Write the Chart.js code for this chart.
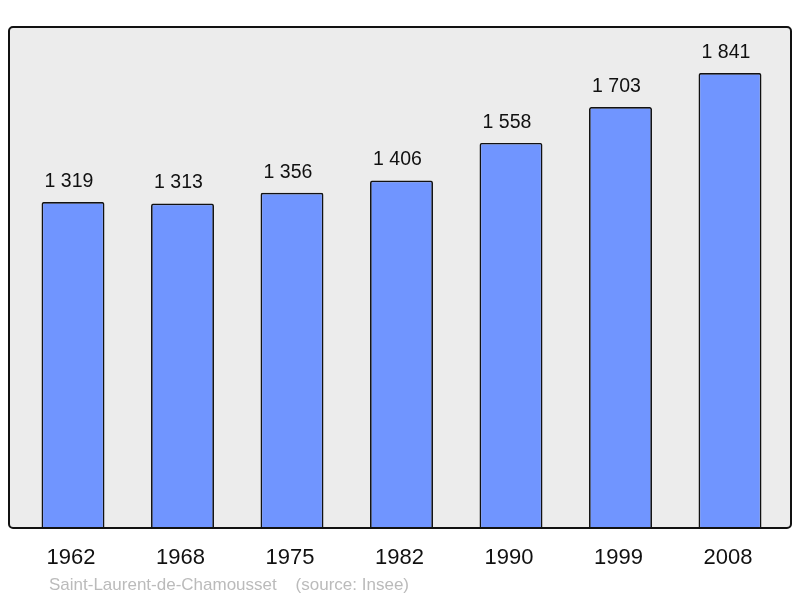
<!DOCTYPE html>
<html><head><meta charset="utf-8">
<script src="https://cdn.jsdelivr.net/npm/chart.js@4"></script>
<style>html,body{margin:0;padding:0;background:#fff}#wrap{width:800px;height:598px}</style>
</head><body><div id="wrap"><canvas id="c" width="800" height="598"></canvas></div>
<script>
const years = ['1962','1968','1975','1982','1990','1999','2008'];
const population = [1319,1313,1356,1406,1558,1703,1841];
const sourceText = 'Saint-Laurent-de-Chamousset    (source: Insee)';
const yMax = 2027;

const fmt = v => String(v).replace(/\B(?=(\d{3})+(?!\d))/g, ' ');
const FONT = '"Liberation Sans", Arial, sans-serif';

const framePlugin = {
  id: 'frame',
  beforeDraw(chart) {
    const ctx = chart.ctx;
    ctx.save();
    ctx.fillStyle = '#fff';
    ctx.fillRect(0,0,chart.width,chart.height);
    ctx.beginPath();
    ctx.roundRect(9,27,782,501,4);
    ctx.fillStyle = '#ececec';
    ctx.fill();
    ctx.restore();
  },
  afterDatasetsDraw(chart) {
    const ctx = chart.ctx;
    ctx.save();
    ctx.beginPath();
    ctx.roundRect(9,27,782,501,4);
    ctx.lineWidth = 2;
    ctx.strokeStyle = '#111';
    ctx.stroke();
    const xs = chart.scales.x, ys = chart.scales.y;
    ctx.fillStyle = '#111';
    ctx.textAlign = 'center';
    ctx.textBaseline = 'alphabetic';
    ctx.font = '19.5px ' + FONT;
    population.forEach((v,i) => {
      ctx.fillText(fmt(v), xs.getPixelForValue(i) - 4, ys.getPixelForValue(v) - 15);
    });
    ctx.font = '22px ' + FONT;
    years.forEach((yr,i) => {
      ctx.fillText(yr, xs.getPixelForValue(i) - 2, 564);
    });
    ctx.fillStyle = '#bbbbbb';
    ctx.textAlign = 'left';
    ctx.font = '17px ' + FONT;
    ctx.fillText(sourceText, 49, 590);
    ctx.restore();
  }
};

new Chart(document.getElementById('c'), {
  type: 'bar',
  data: {
    labels: years,
    datasets: [{
      data: population,
      backgroundColor: '#7095ff',
      borderColor: '#111',
      borderWidth: 1.7,
      borderRadius: 2,
      borderSkipped: 'bottom',
      barPercentage: 0.575,
      categoryPercentage: 1
    }]
  },
  options: {
    responsive: false,
    animation: false,
    layout: { padding: { left: 18.25, right: 15.25, top: 27, bottom: 70 } },
    plugins: { legend: { display: false }, tooltip: { enabled: false } },
    scales: {
      x: { display: false },
      y: { display: false, min: 0, max: yMax }
    }
  },
  plugins: [framePlugin]
});
</script></body></html>
